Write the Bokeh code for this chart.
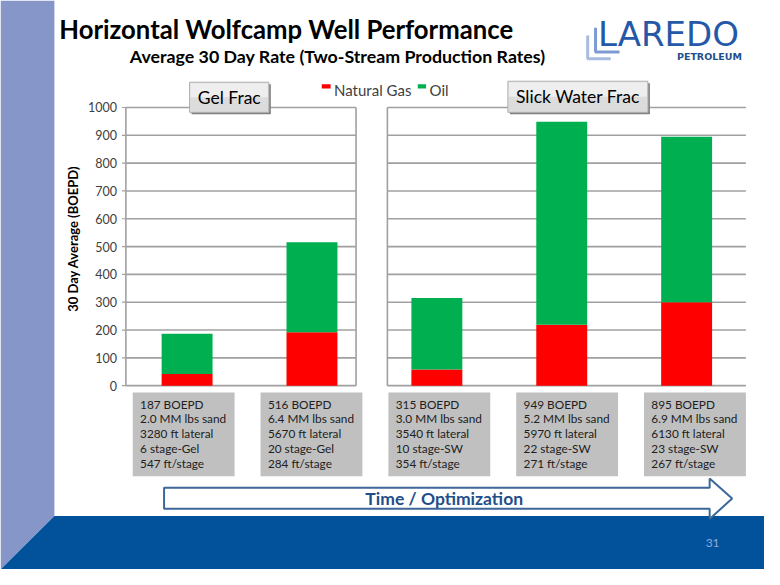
from bokeh.plotting import figure
from bokeh.models import Range1d, ColumnDataSource
from bokeh.core.properties import value
from bokeh.embed import file_html
from bokeh.resources import INLINE

# ---------------- data ----------------
well_ids = ["W1", "W2", "W3", "W4", "W5"]
total_boepd = [187, 516, 315, 949, 895]
gas = [42, 192, 58, 219, 300]
oil = [145, 324, 257, 730, 595]
sand_mm_lbs = ["2.0", "6.4", "3.0", "5.2", "6.9"]
lateral_ft = [3280, 5670, 3540, 5970, 6130]
stage_count = [6, 20, 10, 22, 23]
frac_code = ["Gel", "Gel", "SW", "SW", "SW"]
ft_per_stage = [547, 284, 354, 271, 267]
y_ticks = [0, 100, 200, 300, 400, 500, 600, 700, 800, 900, 1000]
y_tick_labels = [str(t) for t in y_ticks]
group_labels = ["Gel Frac", "Slick Water Frac"]
series_names = ["Natural Gas", "Oil"]

title = "Horizontal Wolfcamp Well Performance"
subtitle = "Average 30 Day Rate (Two-Stream Production Rates)"
y_title = "30 Day Average (BOEPD)"
arrow_text = "Time / Optimization"
page_no = "31"

# ---------------- layout (slide geometry, 780 x 585 slide units) ----------------
W, H = 764, 569
SW_, SH_ = 780.0, 585.0
ZERO_PX, TOP_PX = 396.0, 110.0      # value axis 0 and 1000 positions
BAR0_PX, BAR_PITCH = 190.5, 127.5    # bar centre of first well, pitch

span_v = 1000.0 * SH_ / (ZERO_PX - TOP_PX)
v_start = -(SH_ - ZERO_PX) / SH_ * span_v
v_end = v_start + span_v
w_start = (0 - BAR0_PX) / BAR_PITCH
w_end = (SW_ - BAR0_PX) / BAR_PITCH

FONT = value("Lato")
RED, GREEN = "#FF0000", "#00B050"
GRID = "#A0A0A0"

p = figure(width=W, height=H, x_range=Range1d(0, SW_), y_range=Range1d(SH_, 0),
           output_backend="svg", toolbar_location=None, min_border=0,
           x_axis_location=None, y_axis_location=None)
p.title.visible = False
p.grid.visible = False
p.outline_line_color = None
p.background_fill_color = "white"
p.border_fill_color = "white"
p.extra_y_ranges = {"val": Range1d(v_start, v_end)}
p.extra_x_ranges = {"well": Range1d(w_start, w_end)}

# ---- slide background ----
p.patch([0, 55, 55, 0], [0, 0, 530, 585], fill_color="#8696C9", line_color=None)
p.patch([55, 780, 780, 0], [530, 530, 585, 585], fill_color="#01529B", line_color=None)

# ---- titles ----
p.text(x=[60], y=[29], text=[title], text_font=FONT, text_font_style="bold",
       text_font_size="25.7px", text_color="black", text_baseline="middle")
p.text(x=[132], y=[57], text=[subtitle], text_font=FONT, text_font_style="bold",
       text_font_size="17.8px", text_color="black", text_baseline="middle")

# ---- logo ----
p.line([607.5, 607.5, 632], [28, 53, 53], line_color="#7E9BD1", line_width=3)
p.line([599.5, 599.5, 623], [36, 60, 60], line_color="#A9BBE1", line_width=3)
p.text(x=[610], y=[34.5], text=["LAREDO"], text_font=value("DejaVu Sans"),
       text_font_size="34px", text_color="#2559A7", text_baseline="middle")
p.text(x=[757], y=[58], text=["PETROLEUM"], text_font=value("DejaVu Sans"),
       text_font_style="bold", text_font_size="9.5px", text_color="#1F4E8C",
       text_align="right", text_baseline="middle")

# ---- chart frames / gridlines ----
panels = [(128, 363), (395, 761)]
for (xa, xb) in panels:
    p.segment(x0=[xa] * len(y_ticks), x1=[xb] * len(y_ticks), y0=y_ticks, y1=y_ticks,
              y_range_name="val", line_color=GRID, line_width=1.6)
p.segment(x0=[128, 363, 395], x1=[128, 363, 395], y0=[0, 0, 0], y1=[1000, 1000, 1000],
          y_range_name="val", line_color=GRID, line_width=1.6)
p.segment(x0=[124] * len(y_ticks), x1=[128] * len(y_ticks), y0=y_ticks, y1=y_ticks,
          y_range_name="val", line_color=GRID, line_width=1.2)
p.text(x=[119] * len(y_ticks), y=y_ticks, text=y_tick_labels, y_range_name="val",
       text_font=FONT, text_font_size="12.5px", text_color="#404040",
       text_align="right", text_baseline="middle")
p.text(x=[74], y=[245], text=[y_title], angle=1.5708, text_font=FONT,
       text_font_style="bold", text_font_size="13px", text_color="black",
       text_align="center", text_baseline="middle")

# ---- stacked bars ----
src = ColumnDataSource(dict(x=list(range(len(well_ids))), gas=gas, oil=oil))
p.vbar_stack(["gas", "oil"], x="x", width=52 / BAR_PITCH, source=src,
             color=[RED, GREEN], line_color=None,
             x_range_name="well", y_range_name="val")

# ---- group buttons ----
buttons = [(193, 274, 84, 115, group_labels[0]), (518, 661, 83, 115, group_labels[1])]
for (l, r, t, b, lab) in buttons:
    p.quad(left=[l + 2], right=[r + 2], top=[t + 2], bottom=[b + 2],
           fill_color="#808080", line_color=None)
    p.quad(left=[l], right=[r], top=[t], bottom=[b], fill_color="#DCDCDC",
           line_color="#B0B0B0", line_width=1)
    p.quad(left=[l + 1], right=[r - 1], top=[t + 1], bottom=[(t + b) / 2],
           fill_color="#EEEEEE", line_color=None)
    p.text(x=[(l + r) / 2], y=[(t + b) / 2], text=[lab], text_font=FONT,
           text_font_size="17.5px", text_color="black", text_align="center",
           text_baseline="middle")

# ---- legend ----
p.quad(left=[328], right=[337], top=[86], bottom=[90.5], fill_color=RED, line_color=None)
p.text(x=[340.5], y=[92.5], text=[series_names[0]], text_font=FONT,
       text_font_size="15px", text_color="#404040", text_baseline="middle")
p.quad(left=[426], right=[434.5], top=[86], bottom=[90.5], fill_color=GREEN, line_color=None)
p.text(x=[438], y=[92.5], text=[series_names[1]], text_font=FONT,
       text_font_size="15px", text_color="#404040", text_baseline="middle")

# ---- info boxes ----
BOX_X0, BOX_PITCH, BOX_W = 135.0, 130.5, 104.0
for i in range(len(well_ids)):
    l = BOX_X0 + i * BOX_PITCH
    p.quad(left=[l], right=[l + BOX_W], top=[403], bottom=[489],
           fill_color="#C0C0C0", line_color=None)
    lines = [f"{total_boepd[i]} BOEPD",
             f"{sand_mm_lbs[i]} MM lbs sand",
             f"{lateral_ft[i]} ft lateral",
             f"{stage_count[i]} stage-{frac_code[i]}",
             f"{ft_per_stage[i]} ft/stage"]
    p.text(x=[l + 7.5] * 5, y=[415 + k * 15.25 for k in range(5)], text=lines,
           text_font=FONT, text_font_size="11.8px", text_color="#202020",
           text_baseline="middle")

# ---- arrow ----
p.patch([167, 724, 724, 747, 724, 724, 167], [501, 501, 491.5, 512, 533, 522.5, 522.5],
        fill_color="white", line_color="#3D6699", line_width=2)
p.text(x=[453], y=[511.5], text=[arrow_text], text_font=FONT, text_font_style="bold",
       text_font_size="17.5px", text_color="#1F4E89", text_align="center",
       text_baseline="middle")

# ---- page number ----
p.text(x=[727], y=[558], text=[page_no], text_font=FONT, text_font_size="12px",
       text_color="#8FAADC", text_align="center", text_baseline="middle")

open("out.html", "w").write(file_html(p, INLINE))
